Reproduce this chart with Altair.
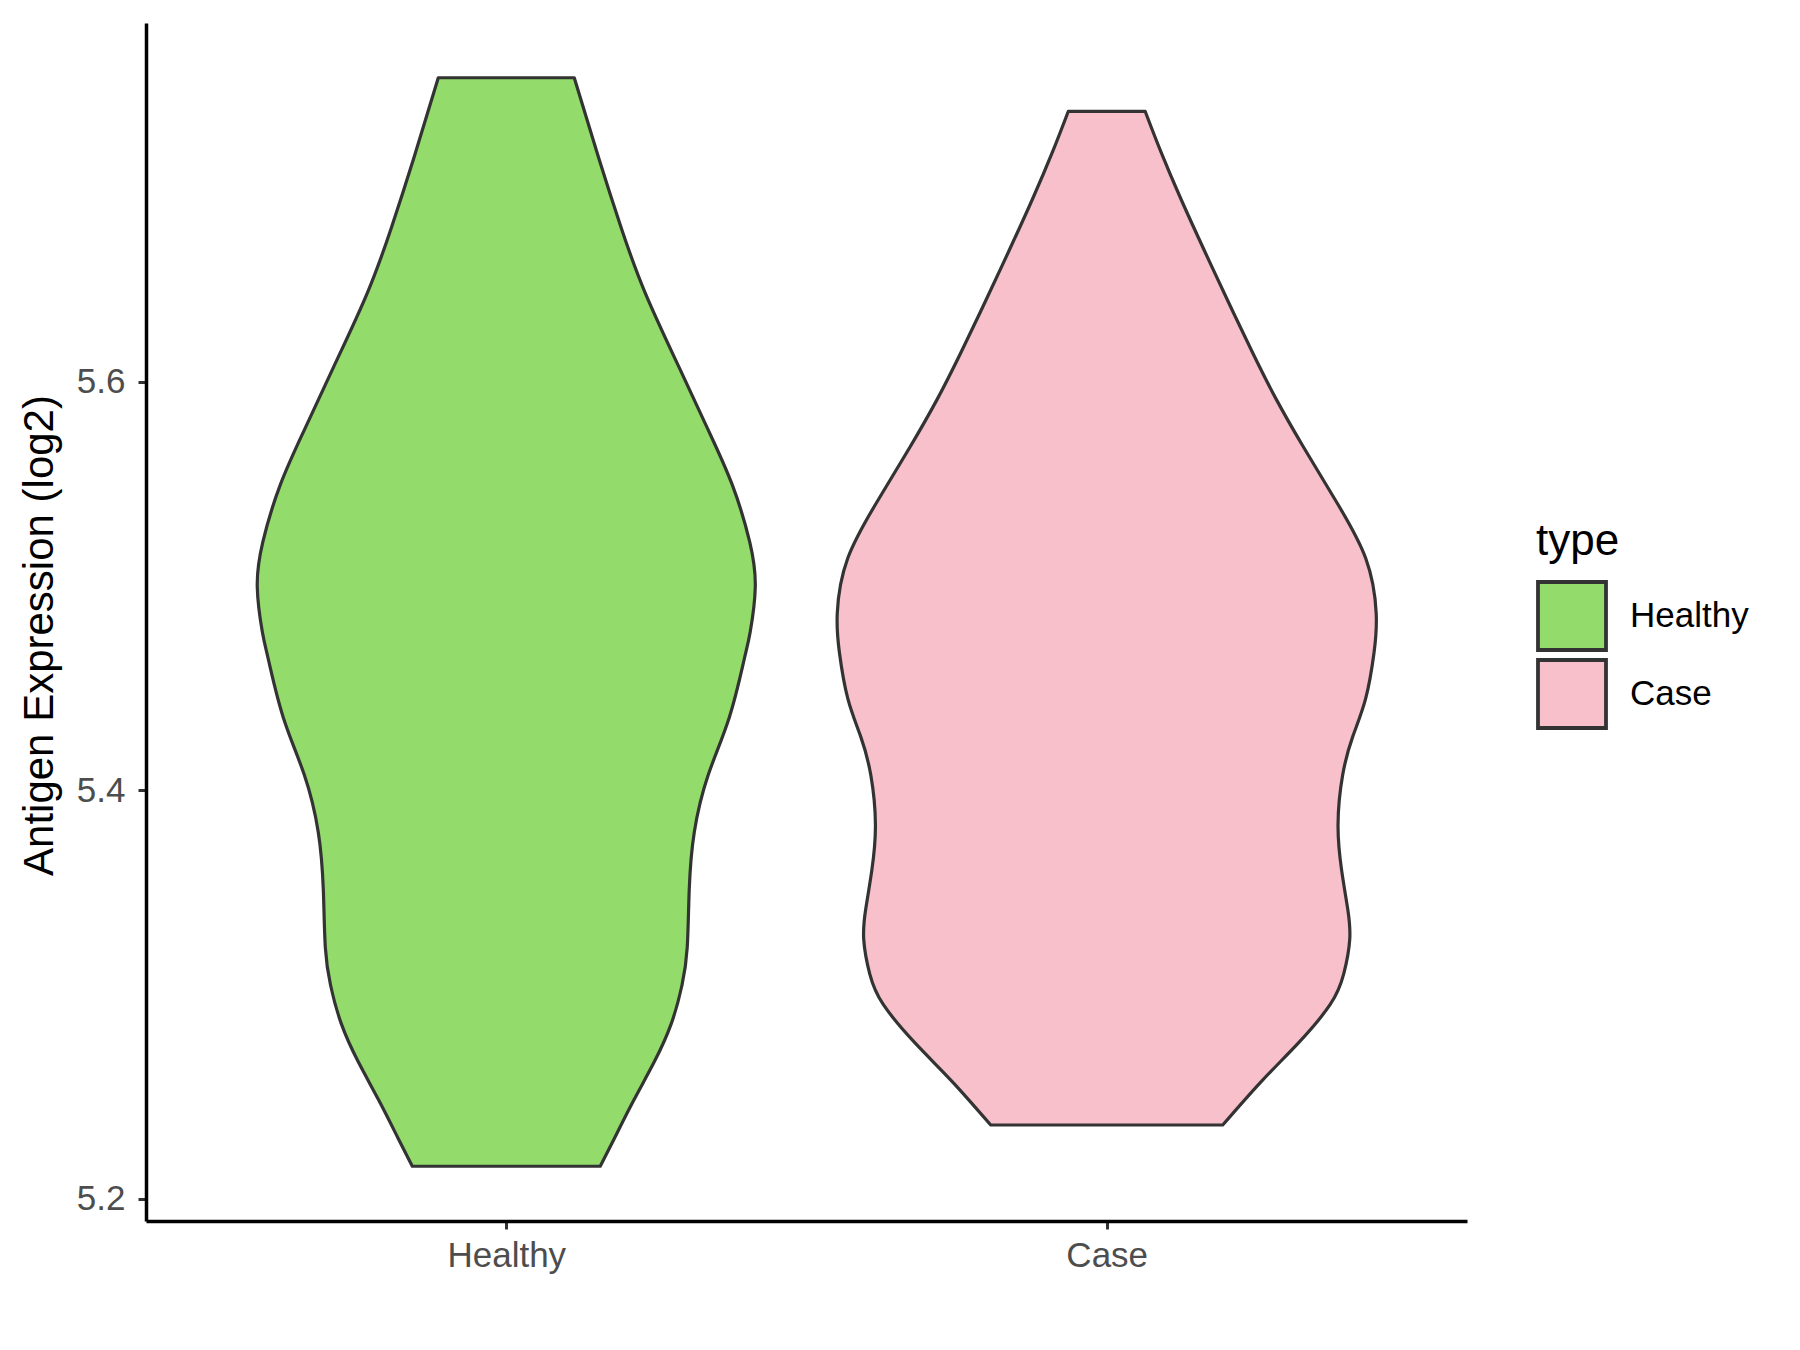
import altair as alt
import pandas as pd

# ---- data ----
groups = ["Healthy", "Case"]
group_pos = [1, 2]
fill_colors = ["#93DC6B", "#F7C0CB"]

healthy_y = [5.7488, 5.7093, 5.6753, 5.6434, 5.6074, 5.5774, 5.5495, 5.5215, 5.4995,
             5.4776, 5.4638, 5.4357, 5.4076, 5.3795, 5.3514, 5.3233, 5.3046, 5.2858,
             5.2671, 5.2484, 5.2296, 5.2160]
healthy_hw = [0.1132, 0.1542, 0.1915, 0.2315, 0.2873, 0.3347, 0.3764, 0.4055, 0.4147,
              0.4063, 0.3960, 0.3714, 0.3364, 0.3131, 0.3047, 0.3014, 0.2926, 0.2748,
              0.2465, 0.2125, 0.1800, 0.1565]

case_y = [5.7323, 5.7130, 5.6897, 5.6646, 5.6394, 5.6142, 5.5910, 5.5678, 5.5426, 5.5136,
          5.4865, 5.4672, 5.4450, 5.4263, 5.4076, 5.3832, 5.3607, 5.3420, 5.3270, 5.3102,
          5.2952, 5.2765, 5.2577, 5.2362]
case_hw = [0.0641, 0.0896, 0.1232, 0.1620, 0.2020, 0.2430, 0.2831, 0.3281, 0.3797, 0.4313,
           0.4488, 0.4451, 0.4313, 0.4097, 0.3930, 0.3852, 0.3913, 0.4013, 0.4047, 0.3947,
           0.3722, 0.3197, 0.2581, 0.1932]

y_ticks = [5.2, 5.4, 5.6]
y_domain = [5.1892, 5.7756]
x_domain = [0.4, 2.6]

rows = []
for g, p, ys, hws in [("Healthy", 1, healthy_y, healthy_hw), ("Case", 2, case_y, case_hw)]:
    for i, (yv, hw) in enumerate(zip(ys, hws)):
        rows.append({"type": g, "pos": p, "val": yv, "hw": hw, "idx": i})
df = pd.DataFrame(rows)

label_expr = "[" + ",".join("'" + g + "'" for g in groups) + "][datum.value - 1]"

chart = alt.Chart(df).transform_calculate(
    lo="datum.pos - datum.hw", hi="datum.pos + datum.hw"
).mark_area(
    orient="horizontal", interpolate="natural",
    stroke="#333333", strokeWidth=3.2, opacity=1, fillOpacity=1, strokeJoin="round"
).encode(
    y=alt.Y("val:Q", scale=alt.Scale(domain=y_domain, nice=False, zero=False),
            axis=alt.Axis(values=y_ticks, format=".1f", title="Antigen Expression (log2)",
                          titleFontSize=42, titleColor="black", titleFontWeight="normal",
                          titleAngle=270, titleBaseline="alphabetic", titleAlign="center",
                          titleX=-94, titleY=612,
                          labelFontSize=35, labelColor="#4D4D4D", labelPadding=13,
                          tickColor="#333333", tickSize=8, tickWidth=3,
                          domainColor="black", domainWidth=3.5, grid=False)),
    x=alt.X("lo:Q", scale=alt.Scale(domain=x_domain, nice=False, zero=False),
            axis=alt.Axis(values=group_pos, labelExpr=label_expr, title=None,
                          labelFontSize=35, labelColor="#4D4D4D", labelPadding=9,
                          tickColor="#333333", tickSize=8, tickWidth=3,
                          domainColor="black", domainWidth=3.5, grid=False)),
    x2="hi:Q",
    color=alt.Color("type:N", scale=alt.Scale(domain=groups, range=fill_colors),
                    legend=alt.Legend(title="type", orient="none", legendX=1390, legendY=497,
                                      titleFontSize=44, titleColor="black", titleFontWeight="normal",
                                      titlePadding=16,
                                      labelFontSize=35, labelColor="black", labelOffset=22,
                                      symbolType="square", symbolSize=4624,
                                      symbolStrokeColor="#333333", symbolStrokeWidth=3.8,
                                      symbolOpacity=1, rowPadding=-12,
                                      padding=0)),
    detail="type:N",
).properties(
    width=1321, height=1198,
    padding={"left": 138, "top": 15, "right": 325, "bottom": 121},
    autosize=alt.AutoSizeParams(type="none"),
).configure(font="Liberation Sans").configure_view(strokeWidth=0)

chart.save("out.html", embed_options={"renderer": "svg", "actions": False})
